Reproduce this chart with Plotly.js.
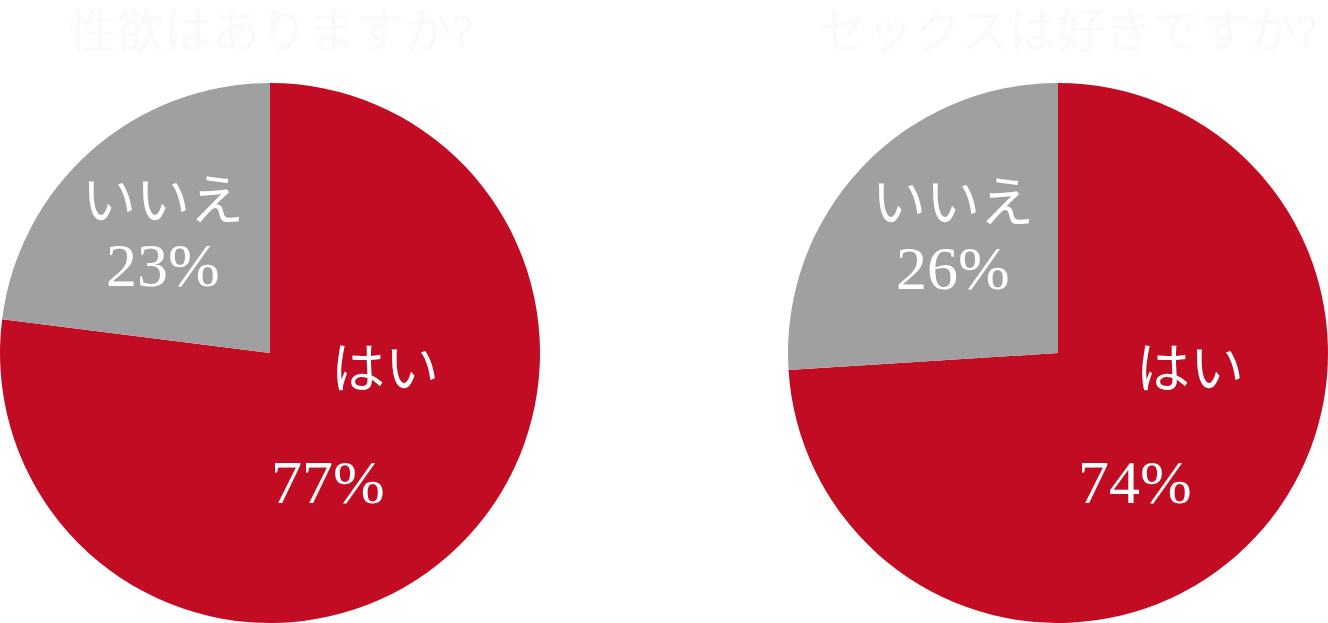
<!DOCTYPE html>
<html>
<head>
<meta charset="utf-8">
<script src="https://cdn.plot.ly/plotly-3.0.1.min.js"></script>
<style>
  html, body { margin: 0; padding: 0; background: #fff; }
  #chart { width: 1328px; height: 623px; }
</style>
</head>
<body>
<div id="chart"></div>
<script>
const titles = ['性欲はありますか?', 'セックスは好きですか?']
const labels = ['はい', 'いいえ']
const left_values = [77, 23]
const right_values = [74, 26]

const colors = ['#c20c24', '#a0a0a0']
const serif = 'Liberation Serif, DejaVu Serif, Noto Sans CJK JP, serif'

function pie_trace(values, x0, x1) {
    return {
        type: 'pie',
        labels: labels,
        values: values,
        sort: false,
        direction: 'clockwise',
        rotation: 0,
        textinfo: 'none',
        hoverinfo: 'none',
        marker: { colors: colors, line: { width: 0 } },
        domain: { x: [x0, x1], y: [0, 540 / 623] },
    }
}

function label(text, x, y, size) {
    return {
        xref: 'paper', yref: 'paper',
        x: x / 1328, y: 1 - y / 623,
        text: text,
        showarrow: false,
        xanchor: 'center', yanchor: 'middle',
        font: { family: serif, size: size, color: '#ffffff' },
    }
}

function title(text, x) {
    return {
        xref: 'paper', yref: 'paper',
        x: x / 1328, y: 1 - 32 / 623,
        text: text,
        showarrow: false,
        xanchor: 'center', yanchor: 'middle',
        font: { family: serif, size: 48, color: '#fafafa' },
    }
}

Plotly.newPlot('chart', [
    pie_trace(left_values, 0, 540 / 1328),
    pie_trace(right_values, 788 / 1328, 1),
], {
    width: 1328,
    height: 623,
    showlegend: false,
    margin: { t: 0, r: 0, b: 0, l: 0 },
    paper_bgcolor: '#ffffff',
    annotations: [
        title(titles[0], 270),
        title(titles[1], 1068),
        label(labels[1], 163, 202, 54),
        label(left_values[1] + '%', 163, 265, 62),
        label(labels[0], 385, 370, 54),
        label(left_values[0] + '%', 328, 482, 62),
        label(labels[1], 953, 204, 54),
        label(right_values[1] + '%', 953, 268, 62),
        label(labels[0], 1190, 370, 54),
        label(right_values[0] + '%', 1135, 482, 62),
    ],
}, { displayModeBar: false })
</script>
</body>
</html>
